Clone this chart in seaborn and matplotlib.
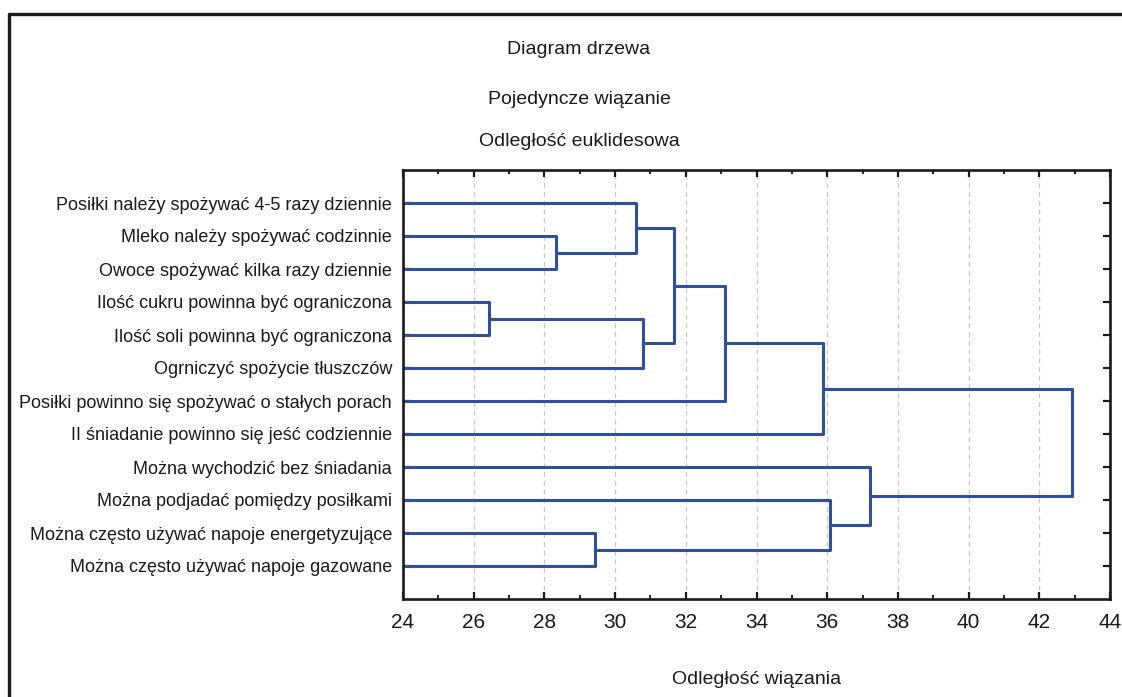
import matplotlib
matplotlib.use("Agg")
import matplotlib.pyplot as plt
from matplotlib.lines import Line2D
from matplotlib.ticker import MultipleLocator
import seaborn as sns
import pandas as pd

# ---- data ----
leaves = [
    "Posiłki należy spożywać 4-5 razy dziennie",
    "Mleko należy spożywać codzinnie",
    "Owoce spożywać kilka razy dziennie",
    "Ilość cukru powinna być ograniczona",
    "Ilość soli powinna być ograniczona",
    "Ogrniczyć spożycie tłuszczów",
    "Posiłki powinno się spożywać o stałych porach",
    "II śniadanie powinno się jeść codziennie",
    "Można wychodzić bez śniadania",
    "Można podjadać pomiędzy posiłkami",
    "Można często używać napoje energetyzujące",
    "Można często używać napoje gazowane",
]
merge_a = [3, 1, 10, 0, 12, 15, 17, 18, 9, 8, 19]
merge_b = [4, 2, 11, 13, 5, 16, 6, 7, 14, 20, 21]
merge_dist = [26.43, 28.33, 29.43, 30.59, 30.79, 31.67, 33.10, 35.88, 36.08, 37.21, 42.93]
x_ticks = [24, 26, 28, 30, 32, 34, 36, 38, 40, 42, 44]
titles = ["Diagram drzewa", "Pojedyncze wiązanie", "Odległość euklidesowa"]
x_label = "Odległość wiązania"

XMIN, XMAX = x_ticks[0], x_ticks[-1]

# ---- build link segments ----
node_x = [XMIN] * len(leaves)
node_y = [i + 1 for i in range(len(leaves))]
rows = []
for k, (a, b, d) in enumerate(zip(merge_a, merge_b, merge_dist)):
    pts = [(node_x[a], node_y[a]), (d, node_y[a]), (d, node_y[b]), (node_x[b], node_y[b])]
    for j, (px, py) in enumerate(pts):
        rows.append({"link": k, "order": j, "x": px, "y": py})
    node_x.append(d)
    node_y.append((node_y[a] + node_y[b]) / 2)
df = pd.DataFrame(rows)

# ---- plot ----
sns.set_theme(style="white")
plt.rcParams["font.family"] = ["Liberation Sans", "DejaVu Sans"]

fig = plt.figure(figsize=(11.22, 6.97), dpi=100)
ax = fig.add_axes([403 / 1122, 1 - 599 / 697, (1110 - 403) / 1122, (599 - 170) / 697])

line_color = "#2f4fa0"
sns.lineplot(data=df, x="x", y="y", units="link", estimator=None, sort=False,
             color=line_color, linewidth=2.2, ax=ax, legend=False)

ax.set_xlim(XMIN, XMAX)
ax.set_ylim(len(leaves) + 1, 0)
ax.set_xticks(x_ticks)
ax.xaxis.set_minor_locator(MultipleLocator(1))
ax.set_yticks(range(1, len(leaves) + 1))
ax.set_yticklabels(leaves)
ax.set_xlabel("")
ax.set_ylabel("")

for sp in ax.spines.values():
    sp.set_visible(True)
    sp.set_color("#1a1a1a")
    sp.set_linewidth(1.9)

ax.tick_params(axis="x", which="major", direction="in", length=5, width=1.6,
               top=True, bottom=True, labelsize=15, pad=10, colors="#1a1a1a")
ax.tick_params(axis="x", which="minor", direction="in", length=3, width=1.4,
               top=True, bottom=True)
ax.tick_params(axis="y", which="major", direction="in", length=5, width=1.6,
               left=True, right=True, labelsize=13, pad=8, colors="#1a1a1a")

for t in x_ticks[1:-1]:
    ax.axvline(t, color="#c8c8c8", linestyle=(0, (4, 3)), linewidth=0.9, zorder=0)

# titles
tx = 579 / 1122
for txt, yp in zip(titles, [50, 100, 142]):
    fig.text(tx, 1 - yp / 697, txt, ha="center", va="center", fontsize=14, color="#1a1a1a")
fig.text(757 / 1122, 1 - 679 / 697, x_label, ha="center", va="center", fontsize=14, color="#1a1a1a")

# outer frame (top and left edges)
fig.add_artist(Line2D([8.5 / 1122, 1.0], [1 - 14 / 697, 1 - 14 / 697], color="#1a1a1a", linewidth=2.4,
                      transform=fig.transFigure))
fig.add_artist(Line2D([8.5 / 1122, 8.5 / 1122], [1 - 14 / 697, 0.0], color="#1a1a1a", linewidth=2.4,
                      transform=fig.transFigure))

fig.savefig("out.png", dpi=100, facecolor="white")
